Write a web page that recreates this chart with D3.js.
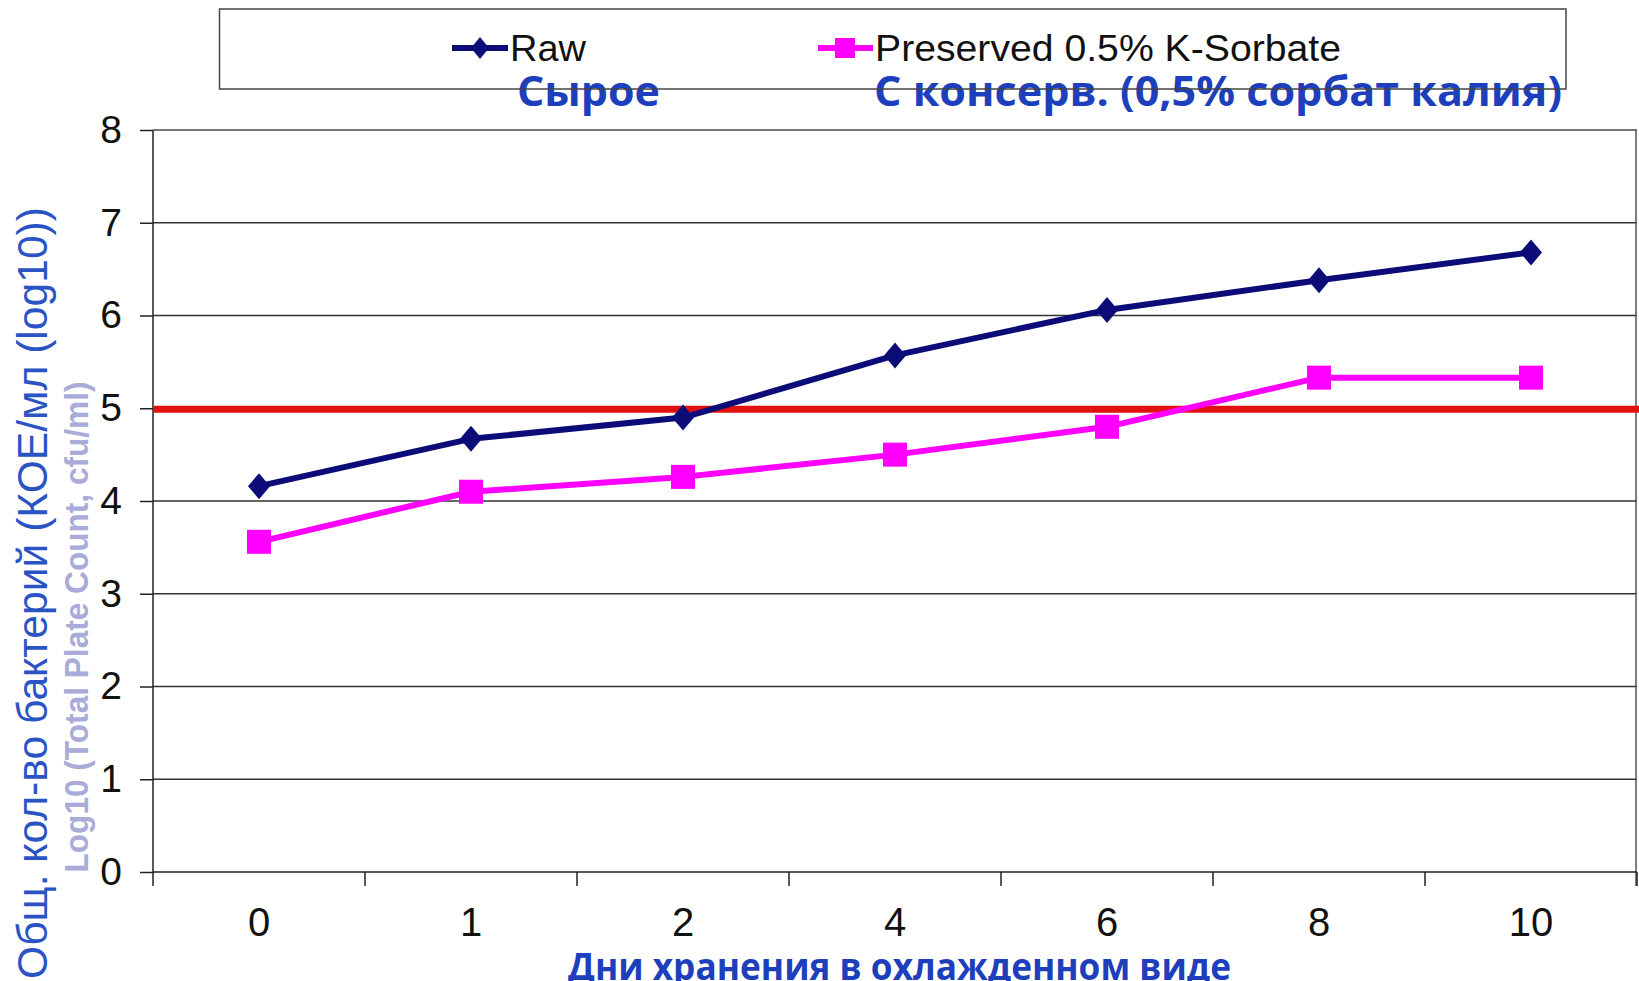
<!DOCTYPE html>
<html>
<head>
<meta charset="utf-8">
<script src="https://cdn.jsdelivr.net/npm/d3@7"></script>
<style>
  html, body { margin: 0; padding: 0; background: #fff; }
  svg { display: block; }
</style>
</head>
<body>
<svg id="chart" width="1639" height="981"></svg>
<script>
// Storage days (categorical axis)
const days = ["0", "1", "2", "4", "6", "8", "10"];
// Log10 total plate count, cfu/ml
const rawValues = [4.16, 4.67, 4.90, 5.57, 6.06, 6.38, 6.68];
const preservedValues = [3.56, 4.10, 4.26, 4.50, 4.80, 5.33, 5.33];
// Limit line
const limitValue = 5;
const yTicks = [0, 1, 2, 3, 4, 5, 6, 7, 8];

const seriesNames = ["Raw", "Preserved 0.5% K-Sorbate"];
const seriesNamesRu = ["Сырое", "С консерв. (0,5% сорбат калия)"];
const xTitle = "Дни хранения в охлажденном виде";
const yTitle = "Общ. кол-во бактерий (КОЕ/мл (log10))";
const yTitleEn = "Log10 (Total Plate Count, cfu/ml)";

const navy = "#0c0c78";
const magenta = "#ff00ff";
const red = "#e31010";
const blueText = "#1e3fbc";

const svg = d3.select("#chart");
const plot = { left: 153, right: 1637, top: 130, bottom: 872 };

const x = d3.scaleBand().domain(days).range([plot.left, plot.right]).padding(0);
const y = d3.scaleLinear().domain([0, 8]).range([plot.bottom, plot.top]);
const cx = d => x(d) + x.bandwidth() / 2;

// Horizontal gridlines
svg.append("g")
  .selectAll("line")
  .data(yTicks.filter(t => t > 0))
  .join("line")
  .attr("x1", plot.left).attr("x2", plot.right)
  .attr("y1", d => y(d)).attr("y2", d => y(d))
  .attr("stroke", d => d === 8 ? "#777" : "#333")
  .attr("stroke-width", d => d === 8 ? 2 : 1.5);

// Right border of plot area
svg.append("line")
  .attr("x1", plot.right - 1).attr("x2", plot.right - 1)
  .attr("y1", y(8)).attr("y2", y(0) + 14)
  .attr("stroke", "#555").attr("stroke-width", 1.5);

// Y axis
const yAxis = svg.append("g")
  .attr("transform", `translate(${plot.left},0)`)
  .call(d3.axisLeft(y).tickValues(yTicks).tickSize(13).tickPadding(18).tickFormat(d3.format("d")));
yAxis.select(".domain").attr("stroke", "#222").attr("stroke-width", 1.5)
  .attr("d", `M0,${y(8)}V${y(0) + 14}`);
yAxis.selectAll(".tick line").attr("stroke", "#222").attr("stroke-width", 1.5);
yAxis.selectAll(".tick text")
  .attr("font-family", "'Liberation Sans', Arial, sans-serif")
  .attr("font-size", 39).attr("fill", "#111");

// X axis: labels centred in each band, ticks at band boundaries
const xAxis = svg.append("g")
  .attr("transform", `translate(0,${plot.bottom})`)
  .call(d3.axisBottom(x).tickSize(0).tickPadding(36));
xAxis.select(".domain").attr("stroke", "#222").attr("stroke-width", 1.5)
  .attr("d", `M${plot.left},0H${plot.right}`);
xAxis.selectAll(".tick text")
  .attr("font-family", "'Liberation Sans', Arial, sans-serif")
  .attr("font-size", 40).attr("fill", "#111");

const boundaries = days.map(d => x(d)).concat([x(days[days.length - 1]) + x.bandwidth()]);
svg.append("g")
  .selectAll("line")
  .data(boundaries.slice(1))
  .join("line")
  .attr("x1", d => d).attr("x2", d => d)
  .attr("y1", plot.bottom).attr("y2", plot.bottom + 14)
  .attr("stroke", "#222").attr("stroke-width", 1.5);

// Limit line at 5 log10
svg.append("line")
  .attr("x1", plot.left).attr("x2", plot.right + 2)
  .attr("y1", y(limitValue) + 1).attr("y2", y(limitValue) + 1)
  .attr("stroke", red).attr("stroke-width", 7);

// Series lines
const line = d3.line().x((d, i) => cx(days[i])).y(d => y(d));
svg.append("path").datum(preservedValues)
  .attr("d", line).attr("fill", "none")
  .attr("stroke", magenta).attr("stroke-width", 6).attr("stroke-linejoin", "round");
svg.append("path").datum(rawValues)
  .attr("d", line).attr("fill", "none")
  .attr("stroke", navy).attr("stroke-width", 6).attr("stroke-linejoin", "round");

// Markers
const diamond = (hw, hh) => `M0,${-hh}L${hw},0L0,${hh}L${-hw},0Z`;
svg.append("g").selectAll("rect")
  .data(preservedValues)
  .join("rect")
  .attr("x", (d, i) => cx(days[i]) - 12).attr("y", d => y(d) - 12)
  .attr("width", 24).attr("height", 24)
  .attr("fill", magenta);
svg.append("g").selectAll("path")
  .data(rawValues)
  .join("path")
  .attr("transform", (d, i) => `translate(${cx(days[i])},${y(d)})`)
  .attr("d", diamond(11, 13))
  .attr("fill", navy);

// Legend
const legend = svg.append("g");
legend.append("rect")
  .attr("x", 219.5).attr("y", 9).attr("width", 1346.5).attr("height", 80)
  .attr("fill", "#fff");

// Raw entry
legend.append("line").attr("x1", 452).attr("x2", 508).attr("y1", 48).attr("y2", 48)
  .attr("stroke", navy).attr("stroke-width", 6);
legend.append("path").attr("transform", "translate(480,48)").attr("d", diamond(9, 11)).attr("fill", navy);
legend.append("text").attr("x", 510).attr("y", 61)
  .attr("font-family", "'Liberation Sans', Arial, sans-serif").attr("font-size", 36)
  .attr("textLength", 76).attr("lengthAdjust", "spacingAndGlyphs")
  .attr("fill", "#111").text(seriesNames[0]);

// Preserved entry
legend.append("line").attr("x1", 818).attr("x2", 873).attr("y1", 48).attr("y2", 48)
  .attr("stroke", magenta).attr("stroke-width", 6);
legend.append("rect").attr("x", 835).attr("y", 38).attr("width", 20).attr("height", 20).attr("fill", magenta);
legend.append("text").attr("x", 875).attr("y", 61)
  .attr("font-family", "'Liberation Sans', Arial, sans-serif").attr("font-size", 36)
  .attr("textLength", 466).attr("lengthAdjust", "spacingAndGlyphs")
  .attr("fill", "#111").text(seriesNames[1]);

// Russian series captions
const ruFont = "'Open Sans', 'Noto Sans', sans-serif";
legend.append("text").attr("x", 517).attr("y", 106)
  .attr("font-family", ruFont).attr("font-weight", 700).attr("font-size", 42)
  .attr("textLength", 143).attr("lengthAdjust", "spacingAndGlyphs")
  .attr("fill", blueText).text(seriesNamesRu[0]);
legend.append("text").attr("x", 874).attr("y", 106)
  .attr("font-family", ruFont).attr("font-weight", 700).attr("font-size", 42)
  .attr("textLength", 688).attr("lengthAdjust", "spacingAndGlyphs")
  .attr("fill", blueText).text(seriesNamesRu[1]);

// Legend border drawn above the captions
legend.append("rect")
  .attr("x", 219.5).attr("y", 9).attr("width", 1346.5).attr("height", 80)
  .attr("fill", "none").attr("stroke", "#444").attr("stroke-width", 1.5);

// X axis title
svg.append("text").attr("x", 899.5).attr("y", 980)
  .attr("text-anchor", "middle")
  .attr("font-family", ruFont).attr("font-weight", 700).attr("font-size", 38)
  .attr("textLength", 663).attr("lengthAdjust", "spacingAndGlyphs")
  .attr("fill", blueText).text(xTitle);

// Y axis titles
svg.append("text")
  .attr("transform", "translate(47,593) rotate(-90)")
  .attr("text-anchor", "middle")
  .attr("font-family", "'Liberation Sans', Arial, sans-serif").attr("font-size", 43)
  .attr("textLength", 772).attr("lengthAdjust", "spacingAndGlyphs")
  .attr("fill", "#2a54c4").text(yTitle);
svg.append("text")
  .attr("transform", "translate(88,627) rotate(-90)")
  .attr("text-anchor", "middle")
  .attr("font-family", "'Liberation Sans', Arial, sans-serif").attr("font-weight", 700).attr("font-size", 33)
  .attr("textLength", 491).attr("lengthAdjust", "spacingAndGlyphs")
  .attr("fill", "#a9acd8").text(yTitleEn);
</script>
</body>
</html>
